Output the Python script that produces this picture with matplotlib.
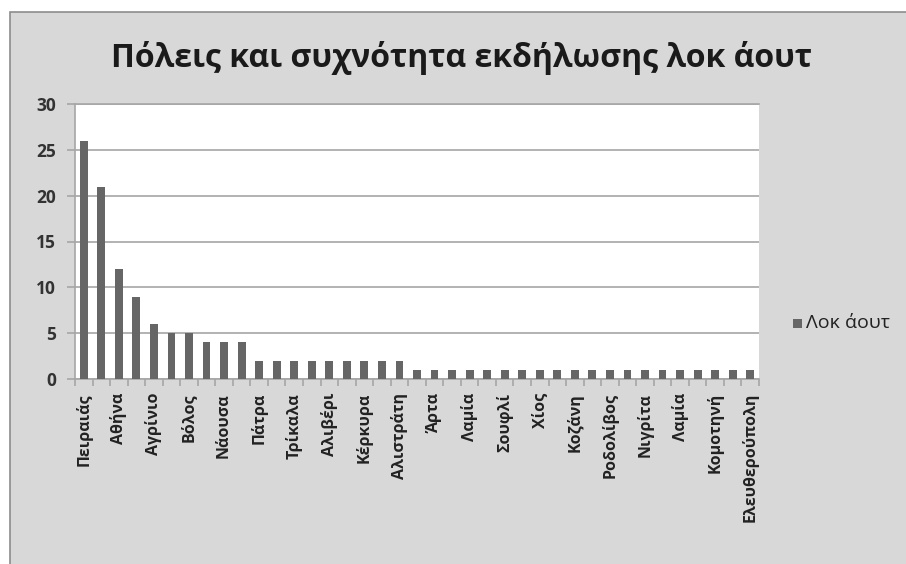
import numpy as np
import matplotlib
matplotlib.use('Agg')
import matplotlib.pyplot as plt
from matplotlib.patches import Rectangle

plt.rcParams['font.family'] = ['Open Sans', 'Noto Sans', 'DejaVu Sans']

# data
values = [26, 21, 12, 9, 6, 5, 5, 4, 4, 4,
          2, 2, 2, 2, 2, 2, 2, 2, 2,
          1, 1, 1, 1, 1, 1, 1, 1, 1, 1, 1, 1, 1, 1, 1, 1, 1, 1, 1, 1]
# only every second category is labelled on the chart
shown_labels = ['Πειραιάς', 'Αθήνα', 'Αγρίνιο', 'Βόλος', 'Νάουσα', 'Πάτρα',
                'Τρίκαλα', 'Αλιβέρι', 'Κέρκυρα', 'Αλιστράτη', 'Άρτα', 'Λαμία',
                'Σουφλί', 'Χίος', 'Κοζάνη', 'Ροδολίβος', 'Νιγρίτα', 'Λαμία',
                'Κομοτηνή', 'Ελευθερούπολη']
series_name = 'Λοκ άουτ'
title = 'Πόλεις και συχνότητα εκδήλωσης λοκ άουτ'
yticks = [0, 5, 10, 15, 20, 25, 30]

bg = '#d8d8d8'
bar_col = '#666666'
grid_col = '#a6a6a6'

fig = plt.figure(figsize=(9.06, 5.64), dpi=100)
fig.patch.set_facecolor('white')

# outer chart area with border
fig.patches.append(Rectangle((10/906, -0.1), 1.2, (564-12)/564 + 0.1,
                             transform=fig.transFigure, facecolor=bg,
                             edgecolor='#8c8c8c', linewidth=1.2, zorder=-10))

ax = fig.add_axes([75/906, 1-379/564, (759-75)/906, (379-104)/564])
ax.set_facecolor('white')

x = np.arange(len(values))
ax.bar(x, values, width=0.45, color=bar_col, zorder=3)

ax.set_xlim(-0.5, len(values) - 0.5)
ax.set_ylim(0, 30)
ax.set_yticks(yticks)
ax.set_yticklabels([str(v) for v in yticks], fontsize=12.5, fontweight='bold', color='#333333')
ax.yaxis.grid(True, color=grid_col, linewidth=1.2, zorder=0)
ax.tick_params(axis='y', length=5.5, color=grid_col, width=1.2, pad=8)

# labels at every second bar, tick marks between categories
ax.set_xticks(x[::2])
ax.set_xticklabels(shown_labels, rotation=90, fontsize=11.5, fontweight='bold', color='#222222')
ax.tick_params(axis='x', which='major', length=0, pad=10)
ax.set_xticks(np.arange(-0.5, len(values), 1), minor=True)
ax.tick_params(axis='x', which='minor', length=5, color=grid_col, width=1.2)

ax.spines['right'].set_visible(False)
for s in ['left', 'bottom', 'top']:
    ax.spines[s].set_color(grid_col)
    ax.spines[s].set_linewidth(1.2)

fig.text(0.51, 1-58/564, title, ha='center', va='center', fontsize=23,
         fontweight='bold', color='#1a1a1a')

# legend
fig.patches.append(Rectangle((793/906, 1-328/564), 9/906, 9/564,
                             transform=fig.transFigure, facecolor=bar_col,
                             edgecolor='none'))
fig.text(806/906, 1-323/564, series_name, ha='left', va='center', fontsize=14,
         color='#222222')

fig.savefig('out.png', dpi=100, facecolor=fig.get_facecolor())
